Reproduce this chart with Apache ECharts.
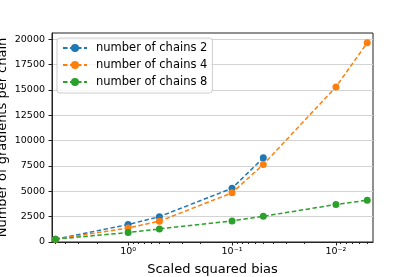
<!DOCTYPE html>
<html>
<head>
<meta charset="utf-8">
<script src="https://cdn.jsdelivr.net/npm/echarts@6/dist/echarts.min.js"></script>
<style>html,body{margin:0;padding:0;background:#fff;}#c{width:415px;height:277px;}</style>
</head>
<body>
<div id="c"></div>
<script>
// ---- data ----
const bias = [5, 1, 0.5, 0.1, 0.05, 0.01, 0.005];
const chains2 = [280, 1720, 2500, 5300, 8300];
const chains4 = [280, 1380, 2050, 4850, 7650, 15300, 19650];
const chains8 = [280, 930, 1290, 2080, 2540, 3700, 4120];
const seriesNames = ['number of chains 2', 'number of chains 4', 'number of chains 8'];
const xTickExps = [0, -1, -2];
const xTickLabels = ['10\u2070', '10\u207B\u00B9', '10\u207B\u00B2'];
const yTicks = [0, 2500, 5000, 7500, 10000, 12500, 15000, 17500, 20000];

const FONT = 'DejaVu Sans';
const xMin = Math.log10(0.0044), xMax = Math.log10(5.4);
const minorTicks = [];
for (let e = -3; e <= 0; e++) {
  for (let k = 2; k <= 9; k++) {
    const v = Math.log10(k * Math.pow(10, e));
    if (v > xMin && v < xMax) minorTicks.push(v);
  }
}
function pts(ys) { return ys.map((y, i) => [Math.log10(bias[i]), y]); }
const colors = ['#1f77b4', '#ff7f0e', '#2ca02c'];
const allData = [chains2, chains4, chains8];

const chart = echarts.init(document.getElementById('c'), null, {renderer: 'canvas'});
chart.setOption({
  animation: false,
  grid: {left: 52, right: 42, top: 33, bottom: 35, containLabel: false, outerBoundsMode: 'none',
    show: true, borderColor: '#222', borderWidth: 1, backgroundColor: 'transparent'},
  legend: {
    left: 57, top: 38, orient: 'vertical',
    padding: [4, 5, 5, 5], itemGap: 5, itemWidth: 24, itemHeight: 10,
    backgroundColor: 'rgba(255,255,255,0.8)', borderColor: '#cccccc', borderWidth: 1, borderRadius: 3,
    textStyle: {fontFamily: FONT, fontSize: 11.5, color: '#000', lineHeight: 12, padding: [0, 0, 0, 4]},
    data: seriesNames
  },
  xAxis: [{
    type: 'value', min: xMin, max: xMax, inverse: true,
    name: 'Scaled squared bias', nameLocation: 'middle', nameGap: 21, nameMoveOverlap: false,
    nameTextStyle: {fontFamily: FONT, fontSize: 13, color: '#000'},
    axisLine: {show: true, onZero: false, lineStyle: {color: '#222'}},
    axisTick: {show: true, inside: false, length: 3.5, customValues: xTickExps, lineStyle: {color: '#222'}},
    axisLabel: {customValues: xTickExps, margin: 5, fontFamily: FONT, fontSize: 9.5, color: '#000',
      formatter: function (v) { const i = xTickExps.findIndex(e => Math.abs(e - v) < 1e-9); return i >= 0 ? xTickLabels[i] : ''; }},
    splitLine: {show: false}
  }, {
    type: 'value', min: xMin, max: xMax, inverse: true, position: 'bottom', offset: 0,
    axisLine: {show: false, onZero: false},
    axisTick: {show: true, length: 2, customValues: minorTicks, lineStyle: {color: '#222'}},
    axisLabel: {show: false}, splitLine: {show: false}
  }],
  yAxis: {
    type: 'value', min: 0, max: 20620,
    name: 'Number of gradients per chain', nameLocation: 'middle', nameGap: 43, nameMoveOverlap: false,
    nameTextStyle: {fontFamily: FONT, fontSize: 13, color: '#000'},
    axisLine: {show: true, onZero: false, lineStyle: {color: '#222'}},
    axisTick: {show: true, length: 3.5, customValues: yTicks, lineStyle: {color: '#222'}},
    axisLabel: {customValues: yTicks, margin: 7, fontFamily: FONT, fontSize: 9.5, color: '#000',
      formatter: function (v) { return String(Math.round(v)); }},
    splitLine: {show: true, lineStyle: {color: '#d3d3d3', width: 1}}
  },
  series: allData.map((d, i) => ({
    name: seriesNames[i], type: 'line', xAxisIndex: 0, data: pts(d),
    symbol: 'circle', symbolSize: 7, showSymbol: true,
    lineStyle: {color: colors[i], width: 1.5, type: [4.5, 2.5]},
    itemStyle: {color: colors[i]}
  }))
});
</script>
</body>
</html>
